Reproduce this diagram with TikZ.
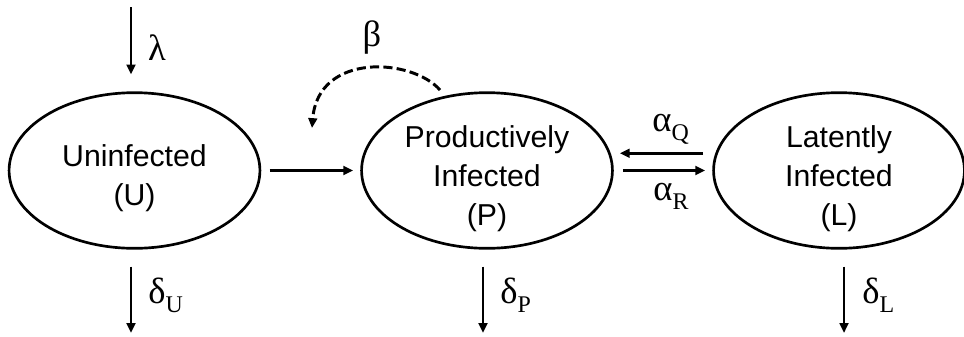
\documentclass[tikz,border=0pt]{standalone}
\usepackage{fontspec}
\setmainfont{Liberation Sans}
\newfontfamily\ratefont{Liberation Serif}
\usetikzlibrary{shapes.geometric,arrows.meta}

\newcommand{\ratesub}[2]{{\ratefont #1\raisebox{-0.27em}{\fontsize{17}{17}\selectfont #2}}}

\begin{document}
\begin{tikzpicture}[x=0.025cm,y=-0.025cm,line cap=butt,line join=round,
                    line width=1.9pt,
                    >={Triangle[length=7pt,width=6.2pt]},
                    font=\fontsize{21.5}{27.6}\selectfont]
  \tikzset{compartment/.style={draw,ellipse,minimum width=6.27cm,
             minimum height=3.89cm,inner sep=0pt},
           statetext/.style={align=center,inner sep=0pt},
           ratelabel/.style={inner sep=0pt,font=\fontsize{26}{26}\ratefont}}
  \useasboundingbox (0,0) rectangle (964,336);

  % the three compartments
  \node[compartment] (U) at (134.5,170.5) {};
  \node[compartment] (P) at (487,170.5) {};
  \node[compartment] (L) at (839,170.5) {};
  \node[statetext] (Utext) at ([yshift=-5.3pt]U.center) {Uninfected\\(U)};
  \node[statetext] (Ptext) at ([yshift=-6pt]P.center)
    {Productively\\Infected\\(P)};
  \node[statetext] (Ltext) at ([yshift=-6pt]L.center)
    {Latently\\Infected\\(L)};

  % source and death terms
  \coordinate (lamtop) at (131,7);
  \coordinate (dUend) at (131,333);
  \coordinate (dPend) at (483,333);
  \coordinate (dLend) at (844,333);
  \draw[->,shorten >=12pt] (lamtop) -- (lamtop |- U.north);
  \draw[->,shorten <=12pt] (dUend |- U.south) -- (dUend);
  \draw[->,shorten <=12pt] (dPend |- P.south) -- (dPend);
  \draw[->,shorten <=12pt] (dLend |- L.south) -- (dLend);
  \node[ratelabel,anchor=base] (lam) at (157,60) {λ};
  \node[ratelabel,anchor=base west] (dU) at (147,303) {\ratesub{δ}{U}};
  \node[ratelabel,anchor=base west] (dP) at (499,303) {\ratesub{δ}{P}};
  \node[ratelabel,anchor=base west] (dL) at (861,303) {\ratesub{δ}{L}};

  % infection and latency transitions
  \draw[->,shorten <=6pt,shorten >=5pt] (U) -- (P);
  \draw[->,shorten <=6.4pt,shorten >=4.3pt]
    ([yshift=0.43cm]L.west) -- ([yshift=0.43cm]P.east);
  \draw[->,shorten <=6.4pt,shorten >=5pt] (P) -- (L);
  \node[ratelabel,anchor=base west] (aQ) at (651,131) {\ratesub{α}{Q}};
  \node[ratelabel,anchor=base west] (aR) at (652,200) {\ratesub{α}{R}};

  % feedback of productively infected cells on infection
  \coordinate (betastart) at (440,90);
  \coordinate (betaend) at (312,128);
  \draw[->,line width=2.1pt,dash pattern=on 6.5pt off 3pt] (betastart)
    .. controls (412,58) and (318,52) .. (betaend);
  \node[ratelabel] (beta) at (372,38) {β};
\end{tikzpicture}
\end{document}
